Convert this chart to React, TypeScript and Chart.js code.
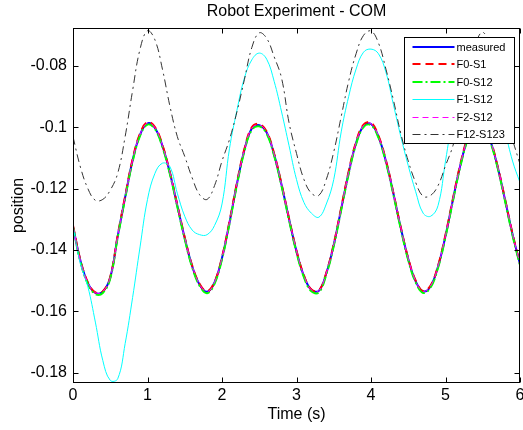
import React, { useEffect, useRef } from 'react';
import { Chart, registerables } from 'chart.js';

Chart.register(...registerables);

const chartTitle = 'Robot Experiment - COM';
const xAxisTitle = 'Time (s)';
const yAxisTitle = 'position';

const xTickValues = [0, 1, 2, 3, 4, 5, 6];
const yTickValues = [-0.18, -0.16, -0.14, -0.12, -0.1, -0.08];
const xMin = 0;
const xMax = 6;
const yMin = -0.18336;
const yMax = -0.06762;

const seriesLabels = ['measured', 'F0-S1', 'F0-S12', 'F1-S12', 'F2-S12', 'F12-S123'];

const timeSec = [
  0, 0.1, 0.2, 0.3, 0.4, 0.5, 0.6, 0.7, 0.8, 0.9,
  1.0, 1.1, 1.2, 1.3, 1.4, 1.5, 1.6, 1.7, 1.8, 1.9,
  2.0, 2.1, 2.2, 2.3, 2.4, 2.5, 2.6, 2.7, 2.8, 2.9,
  3.0, 3.1, 3.2, 3.3, 3.4, 3.5, 3.6, 3.7, 3.8, 3.9,
  4.0, 4.1, 4.2, 4.3, 4.4, 4.5, 4.6, 4.7, 4.8, 4.9,
  5.0, 5.1, 5.2, 5.3, 5.4, 5.5, 5.6, 5.7, 5.8, 5.9,
  6.0,
];

const measured = [
  -0.1323, -0.1435, -0.1508, -0.1540, -0.1536, -0.1490, -0.1355, -0.1228, -0.1108, -0.1024,
  -0.0987, -0.1002, -0.1060, -0.1148, -0.1255, -0.1361, -0.1453, -0.1513, -0.1536, -0.1506,
  -0.1426, -0.1311, -0.1185, -0.1075, -0.1004, -0.0993, -0.1017, -0.1089, -0.1188, -0.1299,
  -0.1404, -0.1485, -0.1530, -0.1533, -0.1476, -0.1383, -0.1266, -0.1148, -0.1051, -0.0995,
  -0.0989, -0.1030, -0.1110, -0.1215, -0.1328, -0.1429, -0.1502, -0.1535, -0.1518, -0.1454,
  -0.1354, -0.1236, -0.1123, -0.1035, -0.0989, -0.0994, -0.1043, -0.1129, -0.1237, -0.1349,
  -0.1446,
];

const f0s1 = [
  -0.1320, -0.1433, -0.1506, -0.1538, -0.1535, -0.1487, -0.1352, -0.1224, -0.1104, -0.1020,
  -0.0983, -0.0999, -0.1057, -0.1146, -0.1252, -0.1359, -0.1451, -0.1511, -0.1535, -0.1504,
  -0.1423, -0.1307, -0.1181, -0.1071, -0.1000, -0.0989, -0.1014, -0.1086, -0.1186, -0.1297,
  -0.1402, -0.1483, -0.1529, -0.1532, -0.1474, -0.1380, -0.1262, -0.1144, -0.1047, -0.0991,
  -0.0985, -0.1027, -0.1107, -0.1213, -0.1326, -0.1427, -0.1500, -0.1534, -0.1516, -0.1451,
  -0.1350, -0.1232, -0.1119, -0.1031, -0.0985, -0.0991, -0.1040, -0.1127, -0.1235, -0.1347,
  -0.1445,
];

const f0s12 = [
  -0.1326, -0.1438, -0.1511, -0.1544, -0.1540, -0.1493, -0.1359, -0.1232, -0.1112, -0.1028,
  -0.0991, -0.1006, -0.1064, -0.1152, -0.1259, -0.1365, -0.1457, -0.1517, -0.1541, -0.1510,
  -0.1430, -0.1315, -0.1189, -0.1079, -0.1008, -0.0997, -0.1021, -0.1093, -0.1192, -0.1303,
  -0.1408, -0.1489, -0.1535, -0.1538, -0.1480, -0.1387, -0.1270, -0.1152, -0.1055, -0.0999,
  -0.0993, -0.1034, -0.1114, -0.1219, -0.1332, -0.1433, -0.1506, -0.1540, -0.1522, -0.1458,
  -0.1358, -0.1240, -0.1127, -0.1039, -0.0993, -0.0998, -0.1047, -0.1133, -0.1241, -0.1353,
  -0.1450,
];

const f1s12 = [
  -0.1323, -0.1445, -0.1520, -0.1635, -0.1760, -0.1825, -0.1820, -0.1705, -0.1555, -0.1390,
  -0.1235, -0.1150, -0.1117, -0.1128, -0.1215, -0.1290, -0.1335, -0.1350, -0.1350, -0.1320,
  -0.1250, -0.1070, -0.0945, -0.0840, -0.0780, -0.0758, -0.0778, -0.0850, -0.0950, -0.1060,
  -0.1170, -0.1245, -0.1280, -0.1293, -0.1250, -0.1170, -0.1015, -0.0900, -0.0810, -0.0755,
  -0.0745, -0.0760, -0.0820, -0.0925, -0.1030, -0.1125, -0.1210, -0.1280, -0.1290, -0.1255,
  -0.1110, -0.0960, -0.0840, -0.0785, -0.0757, -0.0762, -0.0810, -0.0890, -0.1010, -0.1110,
  -0.1180,
];

const f2s12 = [
  -0.1322, -0.1434, -0.1507, -0.1539, -0.1536, -0.1489, -0.1354, -0.1227, -0.1107, -0.1023,
  -0.0986, -0.1001, -0.1059, -0.1147, -0.1254, -0.1360, -0.1452, -0.1512, -0.1536, -0.1505,
  -0.1425, -0.1310, -0.1184, -0.1074, -0.1003, -0.0992, -0.1016, -0.1088, -0.1187, -0.1298,
  -0.1403, -0.1484, -0.1530, -0.1533, -0.1475, -0.1382, -0.1265, -0.1147, -0.1050, -0.0994,
  -0.0988, -0.1029, -0.1109, -0.1214, -0.1327, -0.1428, -0.1501, -0.1535, -0.1517, -0.1453,
  -0.1353, -0.1235, -0.1122, -0.1034, -0.0988, -0.0993, -0.1042, -0.1128, -0.1236, -0.1348,
  -0.1445,
];

const f12s123 = [
  -0.1031, -0.1130, -0.1200, -0.1238, -0.1235, -0.1205, -0.1150, -0.1030, -0.0880, -0.0745,
  -0.0685, -0.0715, -0.0810, -0.0930, -0.1030, -0.1095, -0.1165, -0.1220, -0.1235, -0.1190,
  -0.1110, -0.1040, -0.0950, -0.0845, -0.0740, -0.0692, -0.0710, -0.0770, -0.0840, -0.0985,
  -0.1085, -0.1170, -0.1215, -0.1222, -0.1170, -0.1080, -0.0965, -0.0850, -0.0760, -0.0700,
  -0.0686, -0.0725, -0.0810, -0.0910, -0.1020, -0.1110, -0.1180, -0.1225, -0.1222, -0.1190,
  -0.1125, -0.1060, -0.0960, -0.0840, -0.0730, -0.0690, -0.0740, -0.0840, -0.0950, -0.1040,
  -0.1120,
];

const seriesValues = [measured, f0s1, f0s12, f1s12, f2s12, f12s123];
const seriesColors = ['#0000ff', '#ff0000', '#00ff00', '#00ffff', '#ff00ff', '#333333'];
const seriesWidths = [2, 2, 2, 1, 1, 1];
const seriesDashes: number[][] = [[], [8, 5], [10, 3, 2, 3], [], [6, 4], [8, 4, 2, 4]];

const FONT = "'Liberation Sans', Arial, Helvetica, sans-serif";

const framePlugin = {
  id: 'matlabFrame',
  afterDatasetsDraw(chart: any) {
    const { ctx, chartArea: a, scales } = chart;
    const L = Math.round(a.left) + 0.5;
    const R = Math.round(a.right) - 0.5;
    const T = Math.round(a.top) + 0.5;
    const B = Math.round(a.bottom) - 0.5;
    const tl = 5;
    ctx.save();
    ctx.setLineDash([]);
    ctx.strokeStyle = '#000';
    ctx.lineWidth = 1;
    ctx.strokeRect(L, T, R - L, B - T);
    ctx.beginPath();
    xTickValues.forEach((v) => {
      const px = Math.round(scales.x.getPixelForValue(v)) + 0.5;
      ctx.moveTo(px, B);
      ctx.lineTo(px, B - tl);
      ctx.moveTo(px, T);
      ctx.lineTo(px, T + tl);
    });
    yTickValues.forEach((v) => {
      const py = Math.round(scales.y.getPixelForValue(v)) + 0.5;
      ctx.moveTo(L, py);
      ctx.lineTo(L + tl, py);
      ctx.moveTo(R, py);
      ctx.lineTo(R - tl, py);
    });
    ctx.stroke();
    ctx.restore();
  },
};

const legendPlugin = {
  id: 'boxLegend',
  afterDraw(chart: any) {
    const { ctx, chartArea: a } = chart;
    const bw = 110;
    const bh = 106;
    const bx = Math.round(a.right) - 6 - bw + 0.5;
    const by = Math.round(a.top) + 9 + 0.5;
    ctx.save();
    ctx.setLineDash([]);
    ctx.fillStyle = '#ffffff';
    ctx.fillRect(bx, by, bw, bh);
    ctx.strokeStyle = '#000';
    ctx.lineWidth = 1;
    ctx.strokeRect(bx, by, bw, bh);
    ctx.font = `11px ${FONT}`;
    ctx.textBaseline = 'middle';
    ctx.textAlign = 'left';
    chart.data.datasets.forEach((ds: any, i: number) => {
      const cy = Math.round(by + 9 + i * 17.5);
      ctx.beginPath();
      ctx.strokeStyle = ds.borderColor;
      ctx.lineWidth = ds.borderWidth;
      ctx.setLineDash(ds.borderDash || []);
      const yy = ds.borderWidth % 2 === 1 ? cy + 0.5 : cy;
      ctx.moveTo(bx + 8, yy);
      ctx.lineTo(bx + 50, yy);
      ctx.stroke();
      ctx.setLineDash([]);
      ctx.fillStyle = '#000';
      ctx.fillText(ds.label, bx + 52, cy + 0.5);
    });
    ctx.restore();
  },
};

export default function App() {
  const canvasRef = useRef<HTMLCanvasElement | null>(null);

  useEffect(() => {
    if (!canvasRef.current) return;
    const n = seriesLabels.length;
    const datasets = seriesLabels.map((label, i) => ({
      label,
      data: timeSec.map((t, k) => ({ x: t, y: seriesValues[i][k] })),
      borderColor: seriesColors[i],
      backgroundColor: seriesColors[i],
      borderWidth: seriesWidths[i],
      borderDash: seriesDashes[i],
      pointRadius: 0,
      fill: false,
      tension: 0.4,
      order: n - 1 - i,
    }));

    const chart = new Chart(canvasRef.current, {
      type: 'line',
      data: { datasets },
      plugins: [framePlugin, legendPlugin],
      options: {
        animation: false,
        responsive: false,
        devicePixelRatio: 1,
        layout: { padding: { left: 0, right: 3, top: 0, bottom: 0 } },
        plugins: {
          legend: { display: false },
          tooltip: { enabled: false },
          title: {
            display: true,
            text: chartTitle,
            fullSize: false,
            color: '#000',
            font: { family: FONT, size: 16, weight: 'normal' },
            padding: { top: 2, bottom: 6.8 },
          },
        },
        scales: {
          x: {
            type: 'linear',
            min: xMin,
            max: xMax,
            grid: { display: false, drawTicks: false },
            border: { display: false },
            ticks: {
              padding: 3,
              color: '#000',
              font: { family: FONT, size: 16 },
              maxRotation: 0,
              autoSkip: false,
              callback: (v: any) => String(v),
            },
            afterBuildTicks: (s: any) => {
              s.ticks = xTickValues.map((v) => ({ value: v }));
            },
            afterFit: (s: any) => {
              s.height = 47;
              s.paddingLeft = 0;
              s.paddingRight = 0;
            },
            title: {
              display: true,
              text: xAxisTitle,
              color: '#000',
              font: { family: FONT, size: 16 },
              padding: { top: 0, bottom: 5.4 },
            },
          },
          y: {
            type: 'linear',
            min: yMin,
            max: yMax,
            grid: { display: false, drawTicks: false },
            border: { display: false },
            ticks: {
              padding: 6,
              color: '#000',
              font: { family: FONT, size: 16 },
              autoSkip: false,
              callback: (v: any) => String(Number(Number(v).toFixed(2))),
            },
            afterBuildTicks: (s: any) => {
              s.ticks = yTickValues.map((v) => ({ value: v }));
            },
            afterFit: (s: any) => {
              s.width = 73;
              s.paddingTop = 0;
              s.paddingBottom = 0;
            },
            title: {
              display: true,
              text: yAxisTitle,
              color: '#000',
              font: { family: FONT, size: 16 },
              padding: { top: 9, bottom: 0 },
            },
          },
        },
      },
    } as any);

    return () => chart.destroy();
  }, []);

  return (
    <div style={{ position: 'fixed', left: 0, top: 0, width: 523, height: 430, background: '#fff' }}>
      <canvas ref={canvasRef} width={523} height={430} style={{ display: 'block' }} />
    </div>
  );
}
